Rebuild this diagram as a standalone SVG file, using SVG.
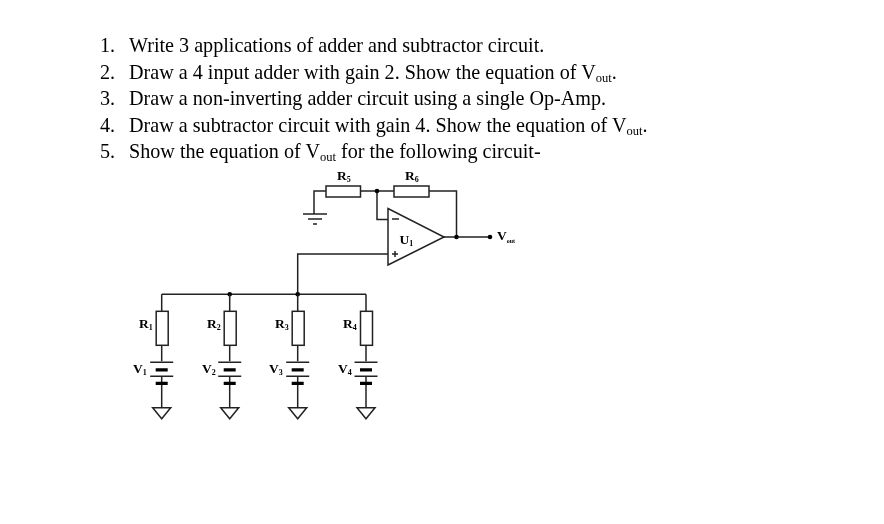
<svg xmlns="http://www.w3.org/2000/svg" width="884" height="524" viewBox="0 0 884 524">
<defs>
<filter id="soft" x="-5%" y="-5%" width="110%" height="110%"><feGaussianBlur stdDeviation="0.5"/></filter>
<g id="leg">
<path class="w" d="M0 0V17M0 51V67M0 82V113"/>
<rect class="w" x="-5.500" y="17" width="12" height="34"/>
<path class="w" d="M-11.500 68H11.500M-11.500 82H11.500"/>
<path class="t" d="M-6 75.500H6M-6 89H6"/>
<path class="w" d="M-9 113.500H9L0 124.500Z"/>
</g>
</defs>
<style>
.w{fill:none;stroke:#222;stroke-width:1.500}
rect.w{fill:#fff}
.t{fill:none;stroke:#000;stroke-width:3.200}
.d{fill:#000}
text{font-family:"Liberation Serif","Times New Roman",serif;fill:#000}
.q{font-size:20.150px}
.s{font-size:12.500px}
.l{font-size:13.500px;font-weight:bold}
.n{font-size:8px}
.v{font-size:6px}
</style>
<rect width="884" height="524" fill="#fff"/>
<g filter="url(#soft)">
<g id="questions">
<text class="q" x="100" y="52">1.</text><text class="q" x="129" y="52">Write 3 applications of adder and subtractor circuit.</text>
<text class="q" x="100" y="78.500">2.</text><text class="q" x="129" y="78.500">Draw a 4 input adder with gain 2. Show the equation of V<tspan class="s" dy="3">out</tspan><tspan dy="-3">.</tspan></text>
<text class="q" x="100" y="105">3.</text><text class="q" x="129" y="105">Draw a non-inverting adder circuit using a single Op-Amp.</text>
<text class="q" x="100" y="131.500">4.</text><text class="q" x="129" y="131.500">Draw a subtractor circuit with gain 4. Show the equation of V<tspan class="s" dy="3">out</tspan><tspan dy="-3">.</tspan></text>
<text class="q" x="100" y="158">5.</text><text class="q" x="129" y="158">Show the equation of V<tspan class="s" dy="3">out</tspan><tspan dy="-3"> for the following circuit-</tspan></text>
</g>
<g id="connectors">
<path class="w" d="M326 191H314V213.500M303 214H327M308 219H322M313 224H317"/>
<path class="w" d="M361 191H394M377 191V219.500H388M429 191H456.500V237M444 237H490"/>
<path class="w" d="M388 254H297.700V294.300M161.700 294.300H366"/>
<circle class="d" cx="377" cy="191" r="2.300"/><circle class="d" cx="456.500" cy="237" r="2.300"/><circle class="d" cx="490" cy="237" r="2.300"/>
<circle class="d" cx="229.700" cy="294.300" r="2.300"/><circle class="d" cx="297.700" cy="294.300" r="2.300"/>
</g>
<g id="R5"><rect class="w" x="326" y="186" width="34.500" height="11"/><text class="l" x="337" y="180">R<tspan class="n" dy="2">5</tspan></text></g>
<g id="R6"><rect class="w" x="394" y="186" width="35" height="11"/><text class="l" x="405" y="180">R<tspan class="n" dy="2">6</tspan></text></g>
<g id="U1"><path class="w" d="M388 208.500V265L444 237Z" fill="#fff"/><path class="w" d="M392 219H399M392 254H398M395 251V257"/><text class="l" x="399.500" y="244">U<tspan class="n" dy="2">1</tspan></text></g>
<g id="Vout"><text class="l" x="497" y="240">V<tspan class="v" dy="2.500">out</tspan></text></g>
<g id="branch1"><use href="#leg" x="161.700" y="294.300"/><text class="l" x="139" y="328">R<tspan class="n" dy="2">1</tspan></text><text class="l" x="133" y="373">V<tspan class="n" dy="2">1</tspan></text></g>
<g id="branch2"><use href="#leg" x="229.700" y="294.300"/><text class="l" x="207" y="328">R<tspan class="n" dy="2">2</tspan></text><text class="l" x="202" y="373">V<tspan class="n" dy="2">2</tspan></text></g>
<g id="branch3"><use href="#leg" x="297.700" y="294.300"/><text class="l" x="275" y="328">R<tspan class="n" dy="2">3</tspan></text><text class="l" x="269" y="373">V<tspan class="n" dy="2">3</tspan></text></g>
<g id="branch4"><use href="#leg" x="366" y="294.300"/><text class="l" x="343" y="328">R<tspan class="n" dy="2">4</tspan></text><text class="l" x="338" y="373">V<tspan class="n" dy="2">4</tspan></text></g>
</g>
</svg>
